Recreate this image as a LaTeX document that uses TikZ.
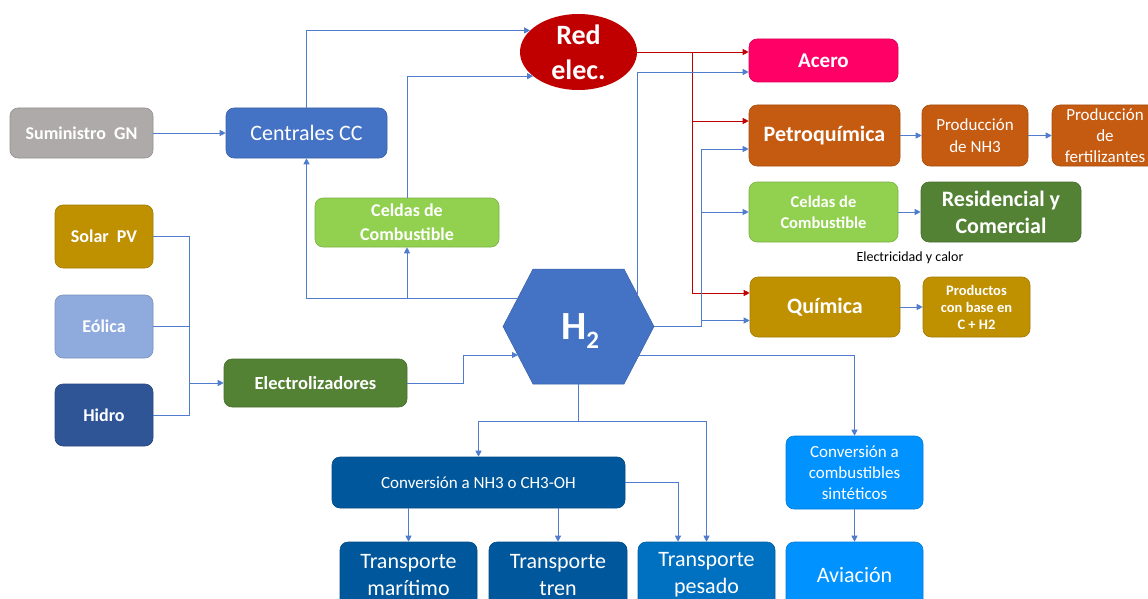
\documentclass[tikz,border=0pt]{standalone}
\usepackage{fontspec}
\setmainfont{Carlito}
\usetikzlibrary{arrows.meta,shapes.geometric}
\definecolor{cgray}{RGB}{174,170,170}
\definecolor{cblue}{RGB}{68,114,196}
\definecolor{cgreenl}{RGB}{146,208,80}
\definecolor{cgold}{RGB}{191,144,0}
\definecolor{cblueL}{RGB}{143,170,220}
\definecolor{cblueD}{RGB}{47,85,151}
\definecolor{cgreenD}{RGB}{84,130,53}
\definecolor{cred}{RGB}{192,0,0}
\definecolor{cpink}{RGB}{255,0,102}
\definecolor{corange}{RGB}{197,90,17}
\definecolor{cnavy}{RGB}{1,87,155}
\definecolor{cmid}{RGB}{0,112,192}
\definecolor{cazure}{RGB}{0,146,255}
\definecolor{cline}{RGB}{79,124,205}
\newcommand\fsz[2]{\fontsize{#1}{#2}\selectfont}
\tikzset{
 box/.style={rounded corners=8pt, text=white, align=center, inner sep=0pt, draw=#1!85!black, line width=0.6pt, fill=#1},
 wire/.style={draw=cline, line width=0.9pt},
 arr/.style={wire, -{Triangle[length=6pt,width=6pt]}},
 rwire/.style={draw=cred, line width=0.9pt},
 rarr/.style={rwire, -{Triangle[length=6pt,width=6pt]}},
}
\begin{document}
\begin{tikzpicture}[x=1pt,y=-1pt]
\useasboundingbox (0,0) rectangle (1148,599);
\clip (0,0) rectangle (1148,599);
% left column
\node[box=cgray, minimum width=143pt, minimum height=50pt, font=\fsz{18}{22}\bfseries] (gn) at (81.5,133) {Suministro\ \ GN};
\node[box=cblue, minimum width=161pt, minimum height=50pt, font=\fsz{22}{26}] (cc) at (306.5,133) {Centrales CC};
\node[box=cgreenl, minimum width=184pt, minimum height=49pt, font=\fsz{18}{24}\bfseries] (celL) at (407,222.5) {Celdas de\\Combustible};
\node[box=cgold, minimum width=98pt, minimum height=63pt, font=\fsz{18}{22}\bfseries] (solar) at (104,236.5) {Solar\ \ PV};
\node[box=cblueL, minimum width=98pt, minimum height=63pt, font=\fsz{18}{22}\bfseries] (eolica) at (104,326.5) {Eólica};
\node[box=cblueD, minimum width=98pt, minimum height=62pt, font=\fsz{18}{22}\bfseries] (hidro) at (104,415) {Hidro};
\node[box=cgreenD, minimum width=183pt, minimum height=48pt, font=\fsz{18.5}{22}\bfseries] (elec) at (315.5,383) {Electrolizadores};
% red network
\node[ellipse, fill=cred, minimum width=117pt, minimum height=76pt, inner sep=0pt,
  label={[text=white, align=center, font=\fsz{28}{35}\bfseries]center:Red\\elec.}] (red) at (578.5,52) {};
% hexagon
\filldraw[fill=cblue, draw=cblue!85!black, line width=0.5pt] (503,326.5) -- (533,269) -- (624,269) -- (654,326.5) -- (624,384) -- (533,384) -- cycle;
\node[anchor=base west, inner sep=0pt, text=white, font=\fsz{40}{40}\bfseries] (h2) at (561,339) {H\raisebox{-9pt}{\fsz{25}{25}\bfseries 2}};
\coordinate (hL) at (518,298);
\coordinate (hEl) at (518,355);
\coordinate (hTR) at (637,294);
\coordinate (hR) at (654,326.5);
\coordinate (hLR) at (639,355);
\coordinate (hB) at (578,384);
% right column
\node[box=cpink, minimum width=149pt, minimum height=43pt, font=\fsz{21}{25}\bfseries] (acero) at (823.5,60.5) {Acero};
\node[box=corange, minimum width=151pt, minimum height=61pt, font=\fsz{22}{26}\bfseries] (petro) at (824.5,135.5) {Petroquímica};
\node[box=corange, minimum width=106pt, minimum height=61pt, font=\fsz{17}{22}] (nh3) at (975,135.5) {Producción\\de NH3};
\node[box=corange, minimum width=106pt, minimum height=61pt, font=\fsz{17}{21}] (fert) at (1105,135.5) {Producción\\de\\fertilizantes};
\node[box=cgreenl, minimum width=149pt, minimum height=60pt, font=\fsz{16.5}{21}\bfseries] (celR) at (823.5,212) {Celdas de\\Combustible};
\node[box=cgreenD, minimum width=160pt, minimum height=60pt, font=\fsz{22}{27}\bfseries] (resid) at (1001,212) {Residencial y\\Comercial};
\node[font=\fsz{14}{16}, inner sep=0pt] (ecal) at (910,258) {Electricidad y calor};
\node[box=cgold, minimum width=150pt, minimum height=60pt, font=\fsz{22}{26}\bfseries] (quim) at (825,307) {Química};
\node[box=cgold, minimum width=107pt, minimum height=60pt, font=\fsz{14.5}{17}\bfseries] (prod) at (976.5,307) {Productos\\con base en\\C + H2};
% bottom
\node[box=cnavy, minimum width=293pt, minimum height=51pt, font=\fsz{17}{21}] (convNH3) at (478.5,482.5) {Conversión a NH3 o CH3-OH};
\node[box=cnavy, minimum width=137pt, minimum height=66pt, font=\fsz{22}{27}] (tmar) at (408.5,575) {Transporte\\marítimo};
\node[box=cnavy, minimum width=138pt, minimum height=66pt, font=\fsz{22}{27}] (ttren) at (558,575) {Transporte\\tren};
\node[box=cmid, minimum width=137pt, minimum height=66pt, font=\fsz{22}{27}] (tpes) at (706.5,575) {Transporte\\pesado};
\node[box=cazure, minimum width=137pt, minimum height=73pt, font=\fsz{17}{21}] (convSint) at (854.5,472.5) {Conversión a\\combustibles\\sintéticos};
\node[box=cazure, minimum width=137pt, minimum height=66pt, font=\fsz{22}{27}] (avia) at (854.5,575) {Aviación};
% connectors left
\draw[arr] (gn.east) -- (cc.west);
\draw[arr] (cc.north) |- (red.156);
\draw[arr] (celL.north) |- (red.208);
\draw[arr] (hL) -| (cc.south);
\draw[arr] (hL) -| (celL.south);
\draw[arr] (elec.east) -- (463,383) |- (hEl);
\coordinate (bus) at (189,383);
\draw[wire] (solar.east) -| (bus);
\draw[wire] (eolica.east) -| (bus);
\draw[wire] (hidro.east) -| (bus);
\draw[arr] (bus) -- (elec.west);
% red connectors
\draw[rarr] (red.east) -- ([yshift=8.5pt]acero.west);
\draw[rarr] (red.east) -- (692,52) |- ([yshift=14.5pt]petro.west);
\draw[rarr] (red.east) -- (692,52) |- ([yshift=14pt]quim.west);
% blue connectors right
\draw[arr] (hTR) |- ([yshift=-11.5pt]acero.west);
\draw[arr] (hR) -- (701,326.5) |- ([yshift=-13.5pt]petro.west);
\draw[arr] (hR) -- (701,326.5) |- (celR.west);
\draw[arr] (hR) -- (701,326.5) |- ([yshift=-13.5pt]quim.west);
\draw[arr] (petro.east) -- (nh3.west);
\draw[arr] (nh3.east) -- (fert.west);
\draw[arr] (celR.east) -- (resid.west);
\draw[arr] (quim.east) -- (prod.west);
% bottom connectors
\draw[arr] (hB) -- (578,421) -| (convNH3.north);
\draw[arr] (hB) -- (578,421) -| (tpes.north);
\draw[arr] (hLR) -| (convSint.north);
\draw[arr] (convSint.south) -- (avia.north);
\draw[arr] (convNH3.south -| tmar.north) -- (tmar.north);
\draw[arr] (convNH3.south -| ttren.north) -- (ttren.north);
\draw[arr] (convNH3.east) -| ([xshift=-28.5pt]tpes.north);
\end{tikzpicture}
\end{document}
